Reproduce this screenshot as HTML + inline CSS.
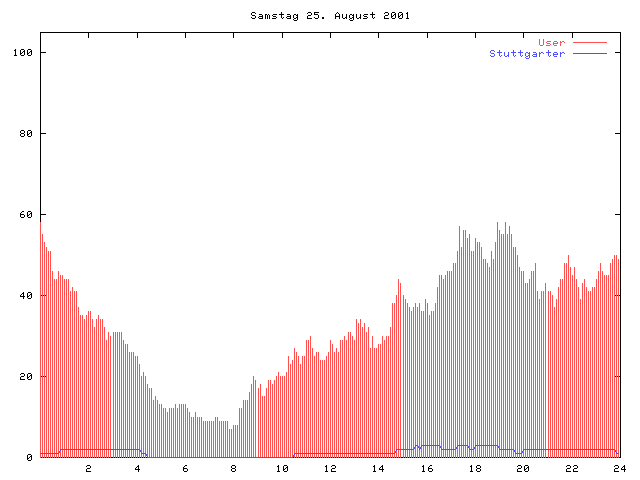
<!DOCTYPE html>
<html><head><meta charset="utf-8"><title>Samstag 25. August 2001</title>
<style>html,body{margin:0;padding:0;background:#fff;width:640px;height:480px;overflow:hidden}svg{display:block}</style>
</head><body><svg width="640" height="480" viewBox="0 0 640 480" shape-rendering="crispEdges">
<rect x="0" y="0" width="640" height="480" fill="#fff"/>
<path fill="#000" d="M14 50h1v1h-1zM14 55h1v1h-1zM15 49h1v7h-1zM16 55h1v1h-1zM20 50h1v5h-1zM20 131h1v2h-1zM20 134h1v2h-1zM20 213h1v4h-1zM20 295h1v2h-1zM20 374h1v1h-1zM20 377h1v3h-1zM21 49h1v1h-1zM21 53h1v1h-1zM21 55h1v1h-1zM21 130h1v1h-1zM21 133h1v1h-1zM21 136h1v1h-1zM21 212h1v1h-1zM21 214h1v1h-1zM21 217h1v1h-1zM21 294h1v1h-1zM21 296h1v1h-1zM21 373h1v1h-1zM21 376h1v1h-1zM21 379h1v1h-1zM22 49h1v1h-1zM22 52h1v1h-1zM22 55h1v1h-1zM22 130h1v1h-1zM22 133h1v1h-1zM22 136h1v1h-1zM22 211h1v1h-1zM22 214h1v1h-1zM22 217h1v1h-1zM22 293h1v1h-1zM22 296h1v1h-1zM22 373h1v1h-1zM22 376h1v1h-1zM22 379h1v1h-1zM23 49h1v1h-1zM23 51h1v1h-1zM23 55h1v1h-1zM23 130h1v1h-1zM23 133h1v1h-1zM23 136h1v1h-1zM23 211h1v1h-1zM23 214h1v1h-1zM23 217h1v1h-1zM23 292h1v7h-1zM23 373h1v1h-1zM23 376h1v1h-1zM23 379h1v1h-1zM24 50h1v5h-1zM24 131h1v2h-1zM24 134h1v2h-1zM24 215h1v2h-1zM24 296h1v1h-1zM24 374h1v2h-1zM24 379h1v1h-1zM27 50h1v5h-1zM27 131h1v5h-1zM27 212h1v5h-1zM27 293h1v5h-1zM27 374h1v5h-1zM27 455h1v5h-1zM28 49h1v1h-1zM28 53h1v1h-1zM28 55h1v1h-1zM28 130h1v1h-1zM28 134h1v1h-1zM28 136h1v1h-1zM28 211h1v1h-1zM28 215h1v1h-1zM28 217h1v1h-1zM28 292h1v1h-1zM28 296h1v1h-1zM28 298h1v1h-1zM28 373h1v1h-1zM28 377h1v1h-1zM28 379h1v1h-1zM28 454h1v1h-1zM28 458h1v1h-1zM28 460h1v1h-1zM29 49h1v1h-1zM29 52h1v1h-1zM29 55h1v1h-1zM29 130h1v1h-1zM29 133h1v1h-1zM29 136h1v1h-1zM29 211h1v1h-1zM29 214h1v1h-1zM29 217h1v1h-1zM29 292h1v1h-1zM29 295h1v1h-1zM29 298h1v1h-1zM29 373h1v1h-1zM29 376h1v1h-1zM29 379h1v1h-1zM29 454h1v1h-1zM29 457h1v1h-1zM29 460h1v1h-1zM30 49h1v1h-1zM30 51h1v1h-1zM30 55h1v1h-1zM30 130h1v1h-1zM30 132h1v1h-1zM30 136h1v1h-1zM30 211h1v1h-1zM30 213h1v1h-1zM30 217h1v1h-1zM30 292h1v1h-1zM30 294h1v1h-1zM30 298h1v1h-1zM30 373h1v1h-1zM30 375h1v1h-1zM30 379h1v1h-1zM30 454h1v1h-1zM30 456h1v1h-1zM30 460h1v1h-1zM31 50h1v5h-1zM31 131h1v5h-1zM31 212h1v5h-1zM31 293h1v5h-1zM31 374h1v5h-1zM31 455h1v5h-1zM40 32h1v190h-1zM41 32h1v1h-1zM41 52h1v1h-1zM41 133h1v1h-1zM41 214h1v1h-1zM41 295h1v1h-1zM41 376h1v1h-1zM41 457h1v1h-1zM42 32h1v1h-1zM42 52h1v1h-1zM42 133h1v1h-1zM42 214h1v1h-1zM43 32h1v1h-1zM43 52h1v1h-1zM43 133h1v1h-1zM43 214h1v1h-1zM43 295h1v1h-1zM43 376h1v1h-1zM43 457h1v1h-1zM44 32h1v1h-1zM44 52h1v1h-1zM44 133h1v1h-1zM44 214h1v1h-1zM45 32h1v1h-1zM45 52h1v1h-1zM45 133h1v1h-1zM45 214h1v1h-1zM45 295h1v1h-1zM45 376h1v1h-1zM45 457h1v1h-1zM46 32h1v1h-1zM47 32h1v1h-1zM47 457h1v1h-1zM48 32h1v1h-1zM49 32h1v1h-1zM49 457h1v1h-1zM50 32h1v1h-1zM51 32h1v1h-1zM51 457h1v1h-1zM52 32h1v1h-1zM53 32h1v1h-1zM53 457h1v1h-1zM54 32h1v1h-1zM55 32h1v1h-1zM55 457h1v1h-1zM56 32h1v1h-1zM57 32h1v1h-1zM57 457h1v1h-1zM58 32h1v1h-1zM59 32h1v1h-1zM59 457h1v1h-1zM60 32h1v1h-1zM61 32h1v1h-1zM61 457h1v1h-1zM62 32h1v1h-1zM63 32h1v1h-1zM63 457h1v1h-1zM64 32h1v1h-1zM65 32h1v1h-1zM65 457h1v1h-1zM66 32h1v1h-1zM67 32h1v1h-1zM67 457h1v1h-1zM68 32h1v1h-1zM69 32h1v1h-1zM69 457h1v1h-1zM70 32h1v1h-1zM71 32h1v1h-1zM71 457h1v1h-1zM72 32h1v1h-1zM73 32h1v1h-1zM73 457h1v1h-1zM74 32h1v1h-1zM75 32h1v1h-1zM75 457h1v1h-1zM76 32h1v1h-1zM77 32h1v1h-1zM77 457h1v1h-1zM78 32h1v1h-1zM79 32h1v1h-1zM79 457h1v1h-1zM80 32h1v1h-1zM81 32h1v1h-1zM81 457h1v1h-1zM82 32h1v1h-1zM83 32h1v1h-1zM83 457h1v1h-1zM84 32h1v1h-1zM85 32h1v1h-1zM85 457h1v1h-1zM86 32h1v1h-1zM86 466h1v1h-1zM86 469h1v3h-1zM87 32h1v1h-1zM87 457h1v1h-1zM87 465h1v1h-1zM87 468h1v1h-1zM87 471h1v1h-1zM88 32h1v6h-1zM88 465h1v1h-1zM88 468h1v1h-1zM88 471h1v1h-1zM89 32h1v1h-1zM89 457h1v1h-1zM89 465h1v1h-1zM89 468h1v1h-1zM89 471h1v1h-1zM90 32h1v1h-1zM90 466h1v2h-1zM90 471h1v1h-1zM91 32h1v1h-1zM91 457h1v1h-1zM92 32h1v1h-1zM93 32h1v1h-1zM93 457h1v1h-1zM94 32h1v1h-1zM95 32h1v1h-1zM95 457h1v1h-1zM96 32h1v1h-1zM97 32h1v1h-1zM97 457h1v1h-1zM98 32h1v1h-1zM99 32h1v1h-1zM99 457h1v1h-1zM100 32h1v1h-1zM101 32h1v1h-1zM101 457h1v1h-1zM102 32h1v1h-1zM103 32h1v1h-1zM103 457h1v1h-1zM104 32h1v1h-1zM105 32h1v1h-1zM105 457h1v1h-1zM106 32h1v1h-1zM107 32h1v1h-1zM107 457h1v1h-1zM108 32h1v1h-1zM109 32h1v1h-1zM109 457h1v1h-1zM110 32h1v1h-1zM111 32h1v1h-1zM111 457h1v1h-1zM112 32h1v1h-1zM112 457h1v1h-1zM113 32h1v1h-1zM114 32h1v1h-1zM114 457h1v1h-1zM115 32h1v1h-1zM116 32h1v1h-1zM116 457h1v1h-1zM117 32h1v1h-1zM118 32h1v1h-1zM118 457h1v1h-1zM119 32h1v1h-1zM120 32h1v1h-1zM120 457h1v1h-1zM121 32h1v1h-1zM122 32h1v1h-1zM122 457h1v1h-1zM123 32h1v1h-1zM124 32h1v1h-1zM124 457h1v1h-1zM125 32h1v1h-1zM126 32h1v1h-1zM126 457h1v1h-1zM127 32h1v1h-1zM128 32h1v1h-1zM128 457h1v1h-1zM129 32h1v1h-1zM130 32h1v1h-1zM130 457h1v1h-1zM131 32h1v1h-1zM132 32h1v1h-1zM132 457h1v1h-1zM133 32h1v1h-1zM134 32h1v1h-1zM134 457h1v1h-1zM135 32h1v1h-1zM135 468h1v2h-1zM136 32h1v1h-1zM136 457h1v1h-1zM136 467h1v1h-1zM136 469h1v1h-1zM137 32h1v6h-1zM137 466h1v1h-1zM137 469h1v1h-1zM138 32h1v1h-1zM138 457h1v1h-1zM138 465h1v7h-1zM139 32h1v1h-1zM139 469h1v1h-1zM140 32h1v1h-1zM140 457h1v1h-1zM141 32h1v1h-1zM142 32h1v1h-1zM142 457h1v1h-1zM143 32h1v1h-1zM144 32h1v1h-1zM144 457h1v1h-1zM145 32h1v1h-1zM146 32h1v1h-1zM146 457h1v1h-1zM147 32h1v1h-1zM148 32h1v1h-1zM149 32h1v1h-1zM150 32h1v1h-1zM151 32h1v1h-1zM152 32h1v1h-1zM153 32h1v1h-1zM154 32h1v1h-1zM155 32h1v1h-1zM156 32h1v1h-1zM157 32h1v1h-1zM158 32h1v1h-1zM159 32h1v1h-1zM160 32h1v1h-1zM161 32h1v1h-1zM162 32h1v1h-1zM163 32h1v1h-1zM164 32h1v1h-1zM165 32h1v1h-1zM166 32h1v1h-1zM167 32h1v1h-1zM168 32h1v1h-1zM169 32h1v1h-1zM170 32h1v1h-1zM171 32h1v1h-1zM172 32h1v1h-1zM173 32h1v1h-1zM174 32h1v1h-1zM175 32h1v1h-1zM176 32h1v1h-1zM177 32h1v1h-1zM178 32h1v1h-1zM179 32h1v1h-1zM180 32h1v1h-1zM181 32h1v1h-1zM182 32h1v1h-1zM183 32h1v1h-1zM183 467h1v4h-1zM184 32h1v1h-1zM184 466h1v1h-1zM184 468h1v1h-1zM184 471h1v1h-1zM185 32h1v6h-1zM185 465h1v1h-1zM185 468h1v1h-1zM185 471h1v1h-1zM186 32h1v1h-1zM186 465h1v1h-1zM186 468h1v1h-1zM186 471h1v1h-1zM187 32h1v1h-1zM187 469h1v2h-1zM188 32h1v1h-1zM189 32h1v1h-1zM190 32h1v1h-1zM191 32h1v1h-1zM192 32h1v1h-1zM193 32h1v1h-1zM194 32h1v1h-1zM195 32h1v1h-1zM196 32h1v1h-1zM197 32h1v1h-1zM198 32h1v1h-1zM199 32h1v1h-1zM200 32h1v1h-1zM201 32h1v1h-1zM202 32h1v1h-1zM203 32h1v1h-1zM204 32h1v1h-1zM205 32h1v1h-1zM206 32h1v1h-1zM207 32h1v1h-1zM208 32h1v1h-1zM209 32h1v1h-1zM210 32h1v1h-1zM211 32h1v1h-1zM212 32h1v1h-1zM213 32h1v1h-1zM214 32h1v1h-1zM215 32h1v1h-1zM216 32h1v1h-1zM217 32h1v1h-1zM218 32h1v1h-1zM219 32h1v1h-1zM220 32h1v1h-1zM221 32h1v1h-1zM222 32h1v1h-1zM223 32h1v1h-1zM224 32h1v1h-1zM225 32h1v1h-1zM226 32h1v1h-1zM227 32h1v1h-1zM228 32h1v1h-1zM229 32h1v1h-1zM230 32h1v1h-1zM231 32h1v1h-1zM231 466h1v2h-1zM231 469h1v2h-1zM232 32h1v1h-1zM232 465h1v1h-1zM232 468h1v1h-1zM232 471h1v1h-1zM233 32h1v6h-1zM233 465h1v1h-1zM233 468h1v1h-1zM233 471h1v1h-1zM234 32h1v1h-1zM234 465h1v1h-1zM234 468h1v1h-1zM234 471h1v1h-1zM235 32h1v1h-1zM235 466h1v2h-1zM235 469h1v2h-1zM236 32h1v1h-1zM237 32h1v1h-1zM238 32h1v1h-1zM239 32h1v1h-1zM240 32h1v1h-1zM241 32h1v1h-1zM242 32h1v1h-1zM243 32h1v1h-1zM244 32h1v1h-1zM245 32h1v1h-1zM246 32h1v1h-1zM247 32h1v1h-1zM248 32h1v1h-1zM249 32h1v1h-1zM250 32h1v1h-1zM251 13h1v2h-1zM251 17h1v1h-1zM251 32h1v1h-1zM252 12h1v1h-1zM252 15h1v1h-1zM252 18h1v1h-1zM252 32h1v1h-1zM253 12h1v1h-1zM253 15h1v1h-1zM253 18h1v1h-1zM253 32h1v1h-1zM254 12h1v1h-1zM254 15h1v1h-1zM254 18h1v1h-1zM254 32h1v1h-1zM255 13h1v1h-1zM255 16h1v2h-1zM255 32h1v1h-1zM256 32h1v1h-1zM257 32h1v1h-1zM258 17h1v1h-1zM258 32h1v1h-1zM259 14h1v1h-1zM259 16h1v1h-1zM259 18h1v1h-1zM259 32h1v1h-1zM260 14h1v1h-1zM260 16h1v1h-1zM260 18h1v1h-1zM260 32h1v1h-1zM261 14h1v1h-1zM261 16h1v1h-1zM261 18h1v1h-1zM261 32h1v1h-1zM262 15h1v4h-1zM262 32h1v1h-1zM263 32h1v1h-1zM264 32h1v1h-1zM265 14h1v5h-1zM265 32h1v1h-1zM266 14h1v1h-1zM266 32h1v1h-1zM267 15h1v4h-1zM267 32h1v1h-1zM268 14h1v1h-1zM268 32h1v1h-1zM269 15h1v4h-1zM269 32h1v1h-1zM270 32h1v1h-1zM271 32h1v1h-1zM272 15h1v1h-1zM272 18h1v1h-1zM272 32h1v1h-1zM273 14h1v1h-1zM273 16h1v1h-1zM273 18h1v1h-1zM273 32h1v1h-1zM274 14h1v1h-1zM274 16h1v1h-1zM274 18h1v1h-1zM274 32h1v1h-1zM275 14h1v1h-1zM275 16h1v1h-1zM275 18h1v1h-1zM275 32h1v1h-1zM276 14h1v1h-1zM276 17h1v1h-1zM276 32h1v1h-1zM277 32h1v1h-1zM277 466h1v1h-1zM277 471h1v1h-1zM278 32h1v1h-1zM278 465h1v7h-1zM279 14h1v1h-1zM279 32h1v1h-1zM279 471h1v1h-1zM280 14h1v1h-1zM280 32h1v1h-1zM281 12h1v6h-1zM281 32h1v1h-1zM282 14h1v1h-1zM282 18h1v1h-1zM282 32h1v6h-1zM283 14h1v1h-1zM283 17h1v1h-1zM283 32h1v1h-1zM283 466h1v5h-1zM284 32h1v1h-1zM284 465h1v1h-1zM284 469h1v1h-1zM284 471h1v1h-1zM285 32h1v1h-1zM285 465h1v1h-1zM285 468h1v1h-1zM285 471h1v1h-1zM286 17h1v1h-1zM286 32h1v1h-1zM286 465h1v1h-1zM286 467h1v1h-1zM286 471h1v1h-1zM287 14h1v1h-1zM287 16h1v1h-1zM287 18h1v1h-1zM287 32h1v1h-1zM287 466h1v5h-1zM288 14h1v1h-1zM288 16h1v1h-1zM288 18h1v1h-1zM288 32h1v1h-1zM289 14h1v1h-1zM289 16h1v1h-1zM289 18h1v1h-1zM289 32h1v1h-1zM290 15h1v4h-1zM290 32h1v1h-1zM291 32h1v1h-1zM292 32h1v1h-1zM293 15h1v3h-1zM293 19h1v1h-1zM293 32h1v1h-1zM293 457h1v1h-1zM294 14h1v1h-1zM294 18h1v1h-1zM294 20h1v1h-1zM294 32h1v1h-1zM295 14h1v1h-1zM295 18h1v1h-1zM295 20h1v1h-1zM295 32h1v1h-1zM295 457h1v1h-1zM296 15h1v1h-1zM296 17h1v1h-1zM296 20h1v1h-1zM296 32h1v1h-1zM297 14h1v6h-1zM297 32h1v1h-1zM297 457h1v1h-1zM298 32h1v1h-1zM299 32h1v1h-1zM299 457h1v1h-1zM300 32h1v1h-1zM301 32h1v1h-1zM301 457h1v1h-1zM302 32h1v1h-1zM303 32h1v1h-1zM303 457h1v1h-1zM304 32h1v1h-1zM305 32h1v1h-1zM305 457h1v1h-1zM306 32h1v1h-1zM307 13h1v1h-1zM307 16h1v3h-1zM307 32h1v1h-1zM307 457h1v1h-1zM308 12h1v1h-1zM308 15h1v1h-1zM308 18h1v1h-1zM308 32h1v1h-1zM309 12h1v1h-1zM309 15h1v1h-1zM309 18h1v1h-1zM309 32h1v1h-1zM309 457h1v1h-1zM310 12h1v1h-1zM310 15h1v1h-1zM310 18h1v1h-1zM310 32h1v1h-1zM311 13h1v2h-1zM311 18h1v1h-1zM311 32h1v1h-1zM311 457h1v1h-1zM312 32h1v1h-1zM313 32h1v1h-1zM313 457h1v1h-1zM314 12h1v3h-1zM314 17h1v1h-1zM314 32h1v1h-1zM315 12h1v1h-1zM315 14h1v1h-1zM315 18h1v1h-1zM315 32h1v1h-1zM315 457h1v1h-1zM316 12h1v1h-1zM316 14h1v1h-1zM316 18h1v1h-1zM316 32h1v1h-1zM317 12h1v1h-1zM317 14h1v1h-1zM317 18h1v1h-1zM317 32h1v1h-1zM317 457h1v1h-1zM318 12h1v1h-1zM318 15h1v3h-1zM318 32h1v1h-1zM319 32h1v1h-1zM319 457h1v1h-1zM320 32h1v1h-1zM321 32h1v1h-1zM321 457h1v1h-1zM322 17h1v2h-1zM322 32h1v1h-1zM323 17h1v2h-1zM323 32h1v1h-1zM323 457h1v1h-1zM324 32h1v1h-1zM325 32h1v1h-1zM325 457h1v1h-1zM325 466h1v1h-1zM325 471h1v1h-1zM326 32h1v1h-1zM326 465h1v7h-1zM327 32h1v1h-1zM327 457h1v1h-1zM327 471h1v1h-1zM328 32h1v1h-1zM329 32h1v1h-1zM329 457h1v1h-1zM330 32h1v6h-1zM331 32h1v1h-1zM331 457h1v1h-1zM331 466h1v1h-1zM331 469h1v3h-1zM332 32h1v1h-1zM332 465h1v1h-1zM332 468h1v1h-1zM332 471h1v1h-1zM333 32h1v1h-1zM333 457h1v1h-1zM333 465h1v1h-1zM333 468h1v1h-1zM333 471h1v1h-1zM334 32h1v1h-1zM334 465h1v1h-1zM334 468h1v1h-1zM334 471h1v1h-1zM335 14h1v5h-1zM335 32h1v1h-1zM335 457h1v1h-1zM335 466h1v2h-1zM335 471h1v1h-1zM336 13h1v1h-1zM336 16h1v1h-1zM336 32h1v1h-1zM337 12h1v1h-1zM337 16h1v1h-1zM337 32h1v1h-1zM337 457h1v1h-1zM338 13h1v1h-1zM338 16h1v1h-1zM338 32h1v1h-1zM339 14h1v5h-1zM339 32h1v1h-1zM339 457h1v1h-1zM340 32h1v1h-1zM341 32h1v1h-1zM341 457h1v1h-1zM342 14h1v4h-1zM342 32h1v1h-1zM343 18h1v1h-1zM343 32h1v1h-1zM343 457h1v1h-1zM344 18h1v1h-1zM344 32h1v1h-1zM345 17h1v1h-1zM345 32h1v1h-1zM345 457h1v1h-1zM346 14h1v5h-1zM346 32h1v1h-1zM347 32h1v1h-1zM347 457h1v1h-1zM348 32h1v1h-1zM349 15h1v3h-1zM349 19h1v1h-1zM349 32h1v1h-1zM349 457h1v1h-1zM350 14h1v1h-1zM350 18h1v1h-1zM350 20h1v1h-1zM350 32h1v1h-1zM351 14h1v1h-1zM351 18h1v1h-1zM351 20h1v1h-1zM351 32h1v1h-1zM351 457h1v1h-1zM352 15h1v1h-1zM352 17h1v1h-1zM352 20h1v1h-1zM352 32h1v1h-1zM353 14h1v6h-1zM353 32h1v1h-1zM353 457h1v1h-1zM354 32h1v1h-1zM355 32h1v1h-1zM355 457h1v1h-1zM356 14h1v4h-1zM356 32h1v1h-1zM357 18h1v1h-1zM357 32h1v1h-1zM357 457h1v1h-1zM358 18h1v1h-1zM358 32h1v1h-1zM359 17h1v1h-1zM359 32h1v1h-1zM359 457h1v1h-1zM360 14h1v5h-1zM360 32h1v1h-1zM361 32h1v1h-1zM361 457h1v1h-1zM362 32h1v1h-1zM363 15h1v1h-1zM363 18h1v1h-1zM363 32h1v1h-1zM363 457h1v1h-1zM364 14h1v1h-1zM364 16h1v1h-1zM364 18h1v1h-1zM364 32h1v1h-1zM365 14h1v1h-1zM365 16h1v1h-1zM365 18h1v1h-1zM365 32h1v1h-1zM365 457h1v1h-1zM366 14h1v1h-1zM366 16h1v1h-1zM366 18h1v1h-1zM366 32h1v1h-1zM367 14h1v1h-1zM367 17h1v1h-1zM367 32h1v1h-1zM367 457h1v1h-1zM368 32h1v1h-1zM369 32h1v1h-1zM369 457h1v1h-1zM370 14h1v1h-1zM370 32h1v1h-1zM371 14h1v1h-1zM371 32h1v1h-1zM371 457h1v1h-1zM372 12h1v6h-1zM372 32h1v1h-1zM373 14h1v1h-1zM373 18h1v1h-1zM373 32h1v1h-1zM373 457h1v1h-1zM373 466h1v1h-1zM373 471h1v1h-1zM374 14h1v1h-1zM374 17h1v1h-1zM374 32h1v1h-1zM374 465h1v7h-1zM375 32h1v1h-1zM375 457h1v1h-1zM375 471h1v1h-1zM376 32h1v1h-1zM377 32h1v1h-1zM377 457h1v1h-1zM378 32h1v6h-1zM379 32h1v1h-1zM379 457h1v1h-1zM379 468h1v2h-1zM380 32h1v1h-1zM380 467h1v1h-1zM380 469h1v1h-1zM381 32h1v1h-1zM381 457h1v1h-1zM381 466h1v1h-1zM381 469h1v1h-1zM382 32h1v1h-1zM382 465h1v7h-1zM383 32h1v1h-1zM383 457h1v1h-1zM383 469h1v1h-1zM384 13h1v1h-1zM384 16h1v3h-1zM384 32h1v1h-1zM385 12h1v1h-1zM385 15h1v1h-1zM385 18h1v1h-1zM385 32h1v1h-1zM385 457h1v1h-1zM386 12h1v1h-1zM386 15h1v1h-1zM386 18h1v1h-1zM386 32h1v1h-1zM387 12h1v1h-1zM387 15h1v1h-1zM387 18h1v1h-1zM387 32h1v1h-1zM387 457h1v1h-1zM388 13h1v2h-1zM388 18h1v1h-1zM388 32h1v1h-1zM389 32h1v1h-1zM389 457h1v1h-1zM390 32h1v1h-1zM391 13h1v5h-1zM391 32h1v1h-1zM391 457h1v1h-1zM392 12h1v1h-1zM392 16h1v1h-1zM392 18h1v1h-1zM392 32h1v1h-1zM393 12h1v1h-1zM393 15h1v1h-1zM393 18h1v1h-1zM393 32h1v1h-1zM393 457h1v1h-1zM394 12h1v1h-1zM394 14h1v1h-1zM394 18h1v1h-1zM394 32h1v1h-1zM395 13h1v5h-1zM395 32h1v1h-1zM395 457h1v1h-1zM396 32h1v1h-1zM397 32h1v1h-1zM397 457h1v1h-1zM398 13h1v5h-1zM398 32h1v1h-1zM399 12h1v1h-1zM399 16h1v1h-1zM399 18h1v1h-1zM399 32h1v1h-1zM399 457h1v1h-1zM400 12h1v1h-1zM400 15h1v1h-1zM400 18h1v1h-1zM400 32h1v1h-1zM401 12h1v1h-1zM401 14h1v1h-1zM401 18h1v1h-1zM401 32h1v1h-1zM401 457h1v1h-1zM402 13h1v5h-1zM402 32h1v1h-1zM402 457h1v1h-1zM403 32h1v1h-1zM404 32h1v1h-1zM404 457h1v1h-1zM405 32h1v1h-1zM406 13h1v1h-1zM406 18h1v1h-1zM406 32h1v1h-1zM406 457h1v1h-1zM407 12h1v7h-1zM407 32h1v1h-1zM408 18h1v1h-1zM408 32h1v1h-1zM408 457h1v1h-1zM409 32h1v1h-1zM410 32h1v1h-1zM410 457h1v1h-1zM411 32h1v1h-1zM412 32h1v1h-1zM412 457h1v1h-1zM413 32h1v1h-1zM414 32h1v1h-1zM414 457h1v1h-1zM415 32h1v1h-1zM416 32h1v1h-1zM416 457h1v1h-1zM417 32h1v1h-1zM418 32h1v1h-1zM418 457h1v1h-1zM419 32h1v1h-1zM420 32h1v1h-1zM420 457h1v1h-1zM421 32h1v1h-1zM422 32h1v1h-1zM422 457h1v1h-1zM422 466h1v1h-1zM422 471h1v1h-1zM423 32h1v1h-1zM423 465h1v7h-1zM424 32h1v1h-1zM424 457h1v1h-1zM424 471h1v1h-1zM425 32h1v1h-1zM426 32h1v1h-1zM426 457h1v1h-1zM427 32h1v6h-1zM428 32h1v1h-1zM428 457h1v1h-1zM428 467h1v4h-1zM429 32h1v1h-1zM429 466h1v1h-1zM429 468h1v1h-1zM429 471h1v1h-1zM430 32h1v1h-1zM430 457h1v1h-1zM430 465h1v1h-1zM430 468h1v1h-1zM430 471h1v1h-1zM431 32h1v1h-1zM431 465h1v1h-1zM431 468h1v1h-1zM431 471h1v1h-1zM432 32h1v1h-1zM432 457h1v1h-1zM432 469h1v2h-1zM433 32h1v1h-1zM434 32h1v1h-1zM434 457h1v1h-1zM435 32h1v1h-1zM436 32h1v1h-1zM436 457h1v1h-1zM437 32h1v1h-1zM438 32h1v1h-1zM438 457h1v1h-1zM439 32h1v1h-1zM440 32h1v1h-1zM440 457h1v1h-1zM441 32h1v1h-1zM442 32h1v1h-1zM442 457h1v1h-1zM443 32h1v1h-1zM444 32h1v1h-1zM444 457h1v1h-1zM445 32h1v1h-1zM446 32h1v1h-1zM446 457h1v1h-1zM447 32h1v1h-1zM448 32h1v1h-1zM448 457h1v1h-1zM449 32h1v1h-1zM450 32h1v1h-1zM450 457h1v1h-1zM451 32h1v1h-1zM452 32h1v1h-1zM452 457h1v1h-1zM453 32h1v1h-1zM454 32h1v1h-1zM454 457h1v1h-1zM455 32h1v1h-1zM456 32h1v1h-1zM456 457h1v1h-1zM457 32h1v1h-1zM458 32h1v1h-1zM458 457h1v1h-1zM459 32h1v1h-1zM460 32h1v1h-1zM460 457h1v1h-1zM461 32h1v1h-1zM462 32h1v1h-1zM462 457h1v1h-1zM463 32h1v1h-1zM464 32h1v1h-1zM464 457h1v1h-1zM465 32h1v1h-1zM466 32h1v1h-1zM466 457h1v1h-1zM467 32h1v1h-1zM468 32h1v1h-1zM468 457h1v1h-1zM469 32h1v1h-1zM470 32h1v1h-1zM470 457h1v1h-1zM470 466h1v1h-1zM470 471h1v1h-1zM471 32h1v1h-1zM471 465h1v7h-1zM472 32h1v1h-1zM472 457h1v1h-1zM472 471h1v1h-1zM473 32h1v1h-1zM474 32h1v1h-1zM474 457h1v1h-1zM475 32h1v6h-1zM476 32h1v1h-1zM476 457h1v1h-1zM476 466h1v2h-1zM476 469h1v2h-1zM477 32h1v1h-1zM477 465h1v1h-1zM477 468h1v1h-1zM477 471h1v1h-1zM478 32h1v1h-1zM478 457h1v1h-1zM478 465h1v1h-1zM478 468h1v1h-1zM478 471h1v1h-1zM479 32h1v1h-1zM479 465h1v1h-1zM479 468h1v1h-1zM479 471h1v1h-1zM480 32h1v1h-1zM480 457h1v1h-1zM480 466h1v2h-1zM480 469h1v2h-1zM481 32h1v1h-1zM482 32h1v1h-1zM482 457h1v1h-1zM483 32h1v1h-1zM484 32h1v1h-1zM484 457h1v1h-1zM485 32h1v1h-1zM486 32h1v1h-1zM486 457h1v1h-1zM487 32h1v1h-1zM488 32h1v1h-1zM488 457h1v1h-1zM489 32h1v1h-1zM490 32h1v1h-1zM490 457h1v1h-1zM491 32h1v1h-1zM492 32h1v1h-1zM492 457h1v1h-1zM493 32h1v1h-1zM494 32h1v1h-1zM494 457h1v1h-1zM495 32h1v1h-1zM496 32h1v1h-1zM496 457h1v1h-1zM497 32h1v1h-1zM498 32h1v1h-1zM498 457h1v1h-1zM499 32h1v1h-1zM500 32h1v1h-1zM500 457h1v1h-1zM501 32h1v1h-1zM502 32h1v1h-1zM502 457h1v1h-1zM503 32h1v1h-1zM504 32h1v1h-1zM504 457h1v1h-1zM505 32h1v1h-1zM506 32h1v1h-1zM506 457h1v1h-1zM507 32h1v1h-1zM508 32h1v1h-1zM508 457h1v1h-1zM509 32h1v1h-1zM510 32h1v1h-1zM510 457h1v1h-1zM511 32h1v1h-1zM512 32h1v1h-1zM512 457h1v1h-1zM513 32h1v1h-1zM514 32h1v1h-1zM514 457h1v1h-1zM515 32h1v1h-1zM516 32h1v1h-1zM516 457h1v1h-1zM517 32h1v1h-1zM517 466h1v1h-1zM517 469h1v3h-1zM518 32h1v1h-1zM518 457h1v1h-1zM518 465h1v1h-1zM518 468h1v1h-1zM518 471h1v1h-1zM519 32h1v1h-1zM519 465h1v1h-1zM519 468h1v1h-1zM519 471h1v1h-1zM520 32h1v1h-1zM520 457h1v1h-1zM520 465h1v1h-1zM520 468h1v1h-1zM520 471h1v1h-1zM521 32h1v1h-1zM521 466h1v2h-1zM521 471h1v1h-1zM522 32h1v1h-1zM522 457h1v1h-1zM523 32h1v6h-1zM524 32h1v1h-1zM524 457h1v1h-1zM524 466h1v5h-1zM525 32h1v1h-1zM525 465h1v1h-1zM525 469h1v1h-1zM525 471h1v1h-1zM526 32h1v1h-1zM526 457h1v1h-1zM526 465h1v1h-1zM526 468h1v1h-1zM526 471h1v1h-1zM527 32h1v1h-1zM527 465h1v1h-1zM527 467h1v1h-1zM527 471h1v1h-1zM528 32h1v1h-1zM528 457h1v1h-1zM528 466h1v5h-1zM529 32h1v1h-1zM530 32h1v1h-1zM530 457h1v1h-1zM531 32h1v1h-1zM532 32h1v1h-1zM532 457h1v1h-1zM533 32h1v1h-1zM534 32h1v1h-1zM534 457h1v1h-1zM535 32h1v1h-1zM536 32h1v1h-1zM536 457h1v1h-1zM537 32h1v1h-1zM538 32h1v1h-1zM538 457h1v1h-1zM539 32h1v1h-1zM540 32h1v1h-1zM540 457h1v1h-1zM541 32h1v1h-1zM542 32h1v1h-1zM542 457h1v1h-1zM543 32h1v1h-1zM544 32h1v1h-1zM544 457h1v1h-1zM545 32h1v1h-1zM546 32h1v1h-1zM546 457h1v1h-1zM547 32h1v1h-1zM547 457h1v1h-1zM548 32h1v1h-1zM549 32h1v1h-1zM549 457h1v1h-1zM550 32h1v1h-1zM551 32h1v1h-1zM551 457h1v1h-1zM552 32h1v1h-1zM553 32h1v1h-1zM553 457h1v1h-1zM554 32h1v1h-1zM555 32h1v1h-1zM555 457h1v1h-1zM556 32h1v1h-1zM557 32h1v1h-1zM557 457h1v1h-1zM558 32h1v1h-1zM559 32h1v1h-1zM559 457h1v1h-1zM560 32h1v1h-1zM561 32h1v1h-1zM561 457h1v1h-1zM562 32h1v1h-1zM563 32h1v1h-1zM563 457h1v1h-1zM564 32h1v1h-1zM565 32h1v1h-1zM565 457h1v1h-1zM566 32h1v1h-1zM566 466h1v1h-1zM566 469h1v3h-1zM567 32h1v1h-1zM567 457h1v1h-1zM567 465h1v1h-1zM567 468h1v1h-1zM567 471h1v1h-1zM568 32h1v1h-1zM568 465h1v1h-1zM568 468h1v1h-1zM568 471h1v1h-1zM569 32h1v1h-1zM569 457h1v1h-1zM569 465h1v1h-1zM569 468h1v1h-1zM569 471h1v1h-1zM570 32h1v1h-1zM570 466h1v2h-1zM570 471h1v1h-1zM571 32h1v1h-1zM571 457h1v1h-1zM572 32h1v6h-1zM573 32h1v1h-1zM573 457h1v1h-1zM573 466h1v1h-1zM573 469h1v3h-1zM574 32h1v1h-1zM574 465h1v1h-1zM574 468h1v1h-1zM574 471h1v1h-1zM575 32h1v1h-1zM575 457h1v1h-1zM575 465h1v1h-1zM575 468h1v1h-1zM575 471h1v1h-1zM576 32h1v1h-1zM576 465h1v1h-1zM576 468h1v1h-1zM576 471h1v1h-1zM577 32h1v1h-1zM577 457h1v1h-1zM577 466h1v2h-1zM577 471h1v1h-1zM578 32h1v1h-1zM579 32h1v1h-1zM579 457h1v1h-1zM580 32h1v1h-1zM581 32h1v1h-1zM581 457h1v1h-1zM582 32h1v1h-1zM583 32h1v1h-1zM583 457h1v1h-1zM584 32h1v1h-1zM585 32h1v1h-1zM585 457h1v1h-1zM586 32h1v1h-1zM587 32h1v1h-1zM587 457h1v1h-1zM588 32h1v1h-1zM589 32h1v1h-1zM589 457h1v1h-1zM590 32h1v1h-1zM591 32h1v1h-1zM591 457h1v1h-1zM592 32h1v1h-1zM593 32h1v1h-1zM593 457h1v1h-1zM594 32h1v1h-1zM595 32h1v1h-1zM595 457h1v1h-1zM596 32h1v1h-1zM597 32h1v1h-1zM597 457h1v1h-1zM598 32h1v1h-1zM599 32h1v1h-1zM599 457h1v1h-1zM600 32h1v1h-1zM601 32h1v1h-1zM601 457h1v1h-1zM602 32h1v1h-1zM603 32h1v1h-1zM603 457h1v1h-1zM604 32h1v1h-1zM605 32h1v1h-1zM605 457h1v1h-1zM606 32h1v1h-1zM607 32h1v1h-1zM607 457h1v1h-1zM608 32h1v1h-1zM609 32h1v1h-1zM609 457h1v1h-1zM610 32h1v1h-1zM611 32h1v1h-1zM611 457h1v1h-1zM612 32h1v1h-1zM613 32h1v1h-1zM613 457h1v1h-1zM614 32h1v1h-1zM614 466h1v1h-1zM614 469h1v3h-1zM615 32h1v1h-1zM615 52h1v1h-1zM615 133h1v1h-1zM615 214h1v1h-1zM615 295h1v1h-1zM615 376h1v1h-1zM615 457h1v1h-1zM615 465h1v1h-1zM615 468h1v1h-1zM615 471h1v1h-1zM616 32h1v1h-1zM616 52h1v1h-1zM616 133h1v1h-1zM616 214h1v1h-1zM616 465h1v1h-1zM616 468h1v1h-1zM616 471h1v1h-1zM617 32h1v1h-1zM617 52h1v1h-1zM617 133h1v1h-1zM617 214h1v1h-1zM617 295h1v1h-1zM617 376h1v1h-1zM617 457h1v1h-1zM617 465h1v1h-1zM617 468h1v1h-1zM617 471h1v1h-1zM618 32h1v1h-1zM618 52h1v1h-1zM618 133h1v1h-1zM618 214h1v1h-1zM618 466h1v2h-1zM618 471h1v1h-1zM619 32h1v1h-1zM619 52h1v1h-1zM619 133h1v1h-1zM619 214h1v1h-1zM619 295h1v1h-1zM619 376h1v1h-1zM619 457h1v1h-1zM620 32h1v426h-1zM621 468h1v2h-1zM622 467h1v1h-1zM622 469h1v1h-1zM623 466h1v1h-1zM623 469h1v1h-1zM624 465h1v7h-1zM625 469h1v1h-1z"/>
<path fill="#ff5050" d="M40 222h1v231h-1zM40 454h1v4h-1zM42 234h1v219h-1zM42 454h1v4h-1zM44 242h1v211h-1zM44 454h1v4h-1zM46 247h1v206h-1zM46 454h1v4h-1zM48 251h1v202h-1zM48 454h1v4h-1zM50 251h1v202h-1zM50 454h1v4h-1zM52 271h1v182h-1zM52 454h1v4h-1zM54 279h1v174h-1zM54 454h1v4h-1zM56 279h1v174h-1zM56 454h1v4h-1zM58 271h1v182h-1zM58 454h1v4h-1zM60 275h1v174h-1zM60 451h1v7h-1zM62 275h1v174h-1zM62 450h1v8h-1zM64 279h1v170h-1zM64 450h1v8h-1zM66 279h1v170h-1zM66 450h1v8h-1zM68 279h1v170h-1zM68 450h1v8h-1zM70 291h1v158h-1zM70 450h1v8h-1zM72 287h1v162h-1zM72 450h1v8h-1zM74 291h1v158h-1zM74 450h1v8h-1zM76 291h1v158h-1zM76 450h1v8h-1zM78 307h1v142h-1zM78 450h1v8h-1zM80 315h1v134h-1zM80 450h1v8h-1zM82 315h1v134h-1zM82 450h1v8h-1zM84 319h1v130h-1zM84 450h1v8h-1zM86 315h1v134h-1zM86 450h1v8h-1zM88 311h1v138h-1zM88 450h1v8h-1zM90 311h1v138h-1zM90 450h1v8h-1zM92 319h1v130h-1zM92 450h1v8h-1zM94 327h1v122h-1zM94 450h1v8h-1zM96 319h1v130h-1zM96 450h1v8h-1zM98 315h1v134h-1zM98 450h1v8h-1zM100 319h1v130h-1zM100 450h1v8h-1zM102 319h1v130h-1zM102 450h1v8h-1zM104 327h1v122h-1zM104 450h1v8h-1zM106 340h1v109h-1zM106 450h1v8h-1zM108 332h1v117h-1zM108 450h1v8h-1zM110 336h1v113h-1zM110 450h1v8h-1zM113 332h1v117h-1zM113 450h1v8h-1zM115 332h1v117h-1zM115 450h1v8h-1zM117 332h1v117h-1zM117 450h1v8h-1zM119 332h1v117h-1zM119 450h1v8h-1zM121 332h1v117h-1zM121 450h1v8h-1zM123 340h1v109h-1zM123 450h1v8h-1zM125 344h1v105h-1zM125 450h1v8h-1zM127 344h1v105h-1zM127 450h1v8h-1zM129 352h1v97h-1zM129 450h1v8h-1zM131 352h1v97h-1zM131 450h1v8h-1zM133 352h1v97h-1zM133 450h1v8h-1zM135 356h1v93h-1zM135 450h1v8h-1zM137 356h1v93h-1zM137 450h1v8h-1zM139 364h1v85h-1zM139 450h1v8h-1zM141 376h1v76h-1zM141 454h1v4h-1zM143 372h1v81h-1zM143 454h1v4h-1zM145 376h1v77h-1zM145 454h1v4h-1zM147 384h1v72h-1zM149 388h1v69h-1zM151 388h1v69h-1zM153 400h1v57h-1zM155 396h1v61h-1zM157 400h1v57h-1zM159 404h1v53h-1zM161 404h1v53h-1zM163 408h1v49h-1zM165 408h1v49h-1zM167 412h1v45h-1zM169 408h1v49h-1zM171 408h1v49h-1zM173 408h1v49h-1zM175 404h1v53h-1zM177 408h1v49h-1zM179 404h1v53h-1zM181 404h1v53h-1zM183 404h1v53h-1zM185 404h1v53h-1zM187 408h1v49h-1zM189 412h1v45h-1zM191 417h1v40h-1zM193 417h1v40h-1zM195 412h1v45h-1zM197 417h1v40h-1zM199 417h1v40h-1zM201 417h1v40h-1zM203 421h1v36h-1zM205 421h1v36h-1zM207 421h1v36h-1zM209 421h1v36h-1zM211 421h1v36h-1zM213 421h1v36h-1zM215 417h1v40h-1zM217 417h1v40h-1zM219 421h1v36h-1zM221 421h1v36h-1zM223 421h1v36h-1zM225 421h1v36h-1zM227 421h1v36h-1zM229 429h1v28h-1zM231 429h1v28h-1zM233 425h1v32h-1zM235 425h1v32h-1zM237 425h1v32h-1zM239 408h1v49h-1zM241 408h1v49h-1zM243 400h1v57h-1zM245 400h1v57h-1zM247 400h1v57h-1zM249 392h1v65h-1zM251 384h1v73h-1zM253 376h1v81h-1zM255 380h1v77h-1zM258 388h1v69h-1zM260 384h1v73h-1zM262 396h1v61h-1zM264 396h1v61h-1zM266 388h1v69h-1zM268 380h1v77h-1zM270 380h1v77h-1zM272 384h1v73h-1zM274 380h1v77h-1zM276 376h1v81h-1zM278 372h1v85h-1zM280 376h1v81h-1zM282 376h1v81h-1zM284 376h1v81h-1zM286 372h1v85h-1zM288 356h1v101h-1zM290 364h1v93h-1zM292 360h1v97h-1zM294 348h1v105h-1zM294 455h1v3h-1zM296 352h1v101h-1zM296 454h1v4h-1zM298 356h1v97h-1zM298 454h1v4h-1zM300 364h1v89h-1zM300 454h1v4h-1zM302 356h1v97h-1zM302 454h1v4h-1zM304 356h1v97h-1zM304 454h1v4h-1zM306 340h1v113h-1zM306 454h1v4h-1zM308 340h1v113h-1zM308 454h1v4h-1zM310 336h1v117h-1zM310 454h1v4h-1zM312 348h1v105h-1zM312 454h1v4h-1zM314 356h1v97h-1zM314 454h1v4h-1zM316 352h1v101h-1zM316 454h1v4h-1zM318 352h1v101h-1zM318 454h1v4h-1zM320 360h1v93h-1zM320 454h1v4h-1zM322 360h1v93h-1zM322 454h1v4h-1zM324 360h1v93h-1zM324 454h1v4h-1zM326 356h1v97h-1zM326 454h1v4h-1zM328 352h1v101h-1zM328 454h1v4h-1zM330 340h1v113h-1zM330 454h1v4h-1zM332 344h1v109h-1zM332 454h1v4h-1zM334 352h1v101h-1zM334 454h1v4h-1zM336 348h1v105h-1zM336 454h1v4h-1zM338 352h1v101h-1zM338 454h1v4h-1zM340 340h1v113h-1zM340 454h1v4h-1zM342 340h1v113h-1zM342 454h1v4h-1zM344 336h1v117h-1zM344 454h1v4h-1zM346 340h1v113h-1zM346 454h1v4h-1zM348 332h1v121h-1zM348 454h1v4h-1zM350 332h1v121h-1zM350 454h1v4h-1zM352 336h1v117h-1zM352 454h1v4h-1zM354 340h1v113h-1zM354 454h1v4h-1zM356 319h1v134h-1zM356 454h1v4h-1zM358 323h1v130h-1zM358 454h1v4h-1zM360 319h1v134h-1zM360 454h1v4h-1zM362 327h1v126h-1zM362 454h1v4h-1zM364 323h1v130h-1zM364 454h1v4h-1zM366 332h1v121h-1zM366 454h1v4h-1zM368 327h1v126h-1zM368 454h1v4h-1zM370 348h1v105h-1zM370 454h1v4h-1zM372 336h1v117h-1zM372 454h1v4h-1zM374 348h1v105h-1zM374 454h1v4h-1zM376 348h1v105h-1zM376 454h1v4h-1zM378 344h1v109h-1zM378 454h1v4h-1zM380 344h1v109h-1zM380 454h1v4h-1zM382 336h1v117h-1zM382 454h1v4h-1zM384 340h1v113h-1zM384 454h1v4h-1zM386 336h1v117h-1zM386 454h1v4h-1zM388 336h1v117h-1zM388 454h1v4h-1zM390 327h1v126h-1zM390 454h1v4h-1zM392 303h1v150h-1zM392 454h1v4h-1zM394 303h1v150h-1zM394 454h1v4h-1zM396 295h1v154h-1zM396 451h1v7h-1zM398 279h1v170h-1zM398 450h1v8h-1zM400 283h1v166h-1zM400 450h1v8h-1zM403 295h1v154h-1zM403 450h1v8h-1zM405 299h1v150h-1zM405 450h1v8h-1zM407 303h1v146h-1zM407 450h1v8h-1zM409 307h1v142h-1zM409 450h1v8h-1zM411 311h1v138h-1zM411 450h1v8h-1zM413 307h1v142h-1zM413 450h1v8h-1zM415 303h1v142h-1zM415 447h1v11h-1zM417 307h1v138h-1zM417 446h1v12h-1zM419 303h1v145h-1zM419 450h1v8h-1zM421 311h1v134h-1zM421 447h1v11h-1zM423 311h1v134h-1zM423 446h1v12h-1zM425 299h1v146h-1zM425 446h1v12h-1zM427 303h1v142h-1zM427 446h1v12h-1zM429 315h1v130h-1zM429 446h1v12h-1zM431 311h1v134h-1zM431 446h1v12h-1zM433 311h1v134h-1zM433 446h1v12h-1zM435 303h1v142h-1zM435 446h1v12h-1zM437 287h1v158h-1zM437 446h1v12h-1zM439 275h1v170h-1zM439 446h1v12h-1zM441 275h1v173h-1zM441 450h1v8h-1zM443 279h1v170h-1zM443 450h1v8h-1zM445 275h1v174h-1zM445 450h1v8h-1zM447 271h1v178h-1zM447 450h1v8h-1zM449 271h1v178h-1zM449 450h1v8h-1zM451 271h1v178h-1zM451 450h1v8h-1zM453 263h1v186h-1zM453 450h1v8h-1zM455 263h1v186h-1zM455 450h1v8h-1zM457 251h1v194h-1zM457 447h1v11h-1zM459 226h1v219h-1zM459 446h1v12h-1zM461 247h1v198h-1zM461 446h1v12h-1zM463 230h1v215h-1zM463 446h1v12h-1zM465 230h1v215h-1zM465 446h1v12h-1zM467 238h1v207h-1zM467 446h1v12h-1zM469 234h1v214h-1zM469 450h1v8h-1zM471 251h1v198h-1zM471 450h1v8h-1zM473 251h1v198h-1zM473 450h1v8h-1zM475 238h1v207h-1zM475 447h1v11h-1zM477 242h1v203h-1zM477 446h1v12h-1zM479 242h1v203h-1zM479 446h1v12h-1zM481 247h1v198h-1zM481 446h1v12h-1zM483 259h1v186h-1zM483 446h1v12h-1zM485 259h1v186h-1zM485 446h1v12h-1zM487 263h1v182h-1zM487 446h1v12h-1zM489 267h1v178h-1zM489 446h1v12h-1zM491 251h1v194h-1zM491 446h1v12h-1zM493 259h1v186h-1zM493 446h1v12h-1zM495 242h1v203h-1zM495 446h1v12h-1zM497 222h1v223h-1zM497 446h1v12h-1zM499 230h1v218h-1zM499 450h1v8h-1zM501 234h1v215h-1zM501 450h1v8h-1zM503 234h1v215h-1zM503 450h1v8h-1zM505 222h1v227h-1zM505 450h1v8h-1zM507 234h1v215h-1zM507 450h1v8h-1zM509 226h1v223h-1zM509 450h1v8h-1zM511 234h1v215h-1zM511 450h1v8h-1zM513 247h1v202h-1zM513 450h1v8h-1zM515 247h1v205h-1zM515 454h1v4h-1zM517 255h1v198h-1zM517 454h1v4h-1zM519 267h1v186h-1zM519 454h1v4h-1zM521 271h1v182h-1zM521 454h1v4h-1zM523 271h1v178h-1zM523 451h1v7h-1zM525 283h1v166h-1zM525 450h1v8h-1zM527 283h1v166h-1zM527 450h1v8h-1zM529 279h1v170h-1zM529 450h1v8h-1zM531 271h1v178h-1zM531 450h1v8h-1zM533 271h1v178h-1zM533 450h1v8h-1zM535 263h1v186h-1zM535 450h1v8h-1zM537 291h1v158h-1zM537 450h1v8h-1zM539 39h1v6h-1zM539 299h1v150h-1zM539 450h1v8h-1zM540 45h1v1h-1zM541 45h1v1h-1zM541 291h1v158h-1zM541 450h1v8h-1zM542 45h1v1h-1zM543 39h1v6h-1zM543 291h1v158h-1zM543 450h1v8h-1zM545 283h1v166h-1zM545 450h1v8h-1zM546 42h1v1h-1zM546 45h1v1h-1zM547 41h1v1h-1zM547 43h1v1h-1zM547 45h1v1h-1zM548 41h1v1h-1zM548 43h1v1h-1zM548 45h1v1h-1zM548 291h1v158h-1zM548 450h1v8h-1zM549 41h1v1h-1zM549 43h1v1h-1zM549 45h1v1h-1zM550 41h1v1h-1zM550 44h1v1h-1zM550 291h1v158h-1zM550 450h1v8h-1zM552 295h1v154h-1zM552 450h1v8h-1zM553 42h1v3h-1zM554 41h1v1h-1zM554 43h1v1h-1zM554 45h1v1h-1zM554 307h1v142h-1zM554 450h1v8h-1zM555 41h1v1h-1zM555 43h1v1h-1zM555 45h1v1h-1zM556 41h1v1h-1zM556 43h1v1h-1zM556 45h1v1h-1zM556 299h1v150h-1zM556 450h1v8h-1zM557 42h1v2h-1zM558 287h1v162h-1zM558 450h1v8h-1zM560 41h1v5h-1zM560 279h1v170h-1zM560 450h1v8h-1zM561 42h1v1h-1zM562 41h1v1h-1zM562 279h1v170h-1zM562 450h1v8h-1zM563 41h1v1h-1zM564 42h1v1h-1zM564 263h1v186h-1zM564 450h1v8h-1zM566 263h1v186h-1zM566 450h1v8h-1zM568 255h1v194h-1zM568 450h1v8h-1zM570 267h1v182h-1zM570 450h1v8h-1zM572 275h1v174h-1zM572 450h1v8h-1zM573 42h1v1h-1zM574 42h1v1h-1zM574 267h1v182h-1zM574 450h1v8h-1zM575 42h1v1h-1zM576 42h1v1h-1zM576 279h1v170h-1zM576 450h1v8h-1zM577 42h1v1h-1zM578 42h1v1h-1zM578 287h1v162h-1zM578 450h1v8h-1zM579 42h1v1h-1zM580 42h1v1h-1zM580 299h1v150h-1zM580 450h1v8h-1zM581 42h1v1h-1zM582 42h1v1h-1zM582 283h1v166h-1zM582 450h1v8h-1zM583 42h1v1h-1zM584 42h1v1h-1zM584 279h1v170h-1zM584 450h1v8h-1zM585 42h1v1h-1zM586 42h1v1h-1zM586 287h1v162h-1zM586 450h1v8h-1zM587 42h1v1h-1zM588 42h1v1h-1zM588 291h1v158h-1zM588 450h1v8h-1zM589 42h1v1h-1zM590 42h1v1h-1zM590 291h1v158h-1zM590 450h1v8h-1zM591 42h1v1h-1zM592 42h1v1h-1zM592 287h1v162h-1zM592 450h1v8h-1zM593 42h1v1h-1zM594 42h1v1h-1zM594 287h1v162h-1zM594 450h1v8h-1zM595 42h1v1h-1zM596 42h1v1h-1zM596 279h1v170h-1zM596 450h1v8h-1zM597 42h1v1h-1zM598 42h1v1h-1zM598 271h1v178h-1zM598 450h1v8h-1zM599 42h1v1h-1zM600 42h1v1h-1zM600 263h1v186h-1zM600 450h1v8h-1zM601 42h1v1h-1zM602 42h1v1h-1zM602 271h1v178h-1zM602 450h1v8h-1zM603 42h1v1h-1zM604 42h1v1h-1zM604 275h1v174h-1zM604 450h1v8h-1zM605 42h1v1h-1zM606 42h1v1h-1zM606 275h1v174h-1zM606 450h1v8h-1zM608 275h1v174h-1zM608 450h1v8h-1zM610 263h1v186h-1zM610 450h1v8h-1zM612 259h1v190h-1zM612 450h1v8h-1zM614 255h1v194h-1zM614 450h1v8h-1zM616 255h1v197h-1zM616 454h1v4h-1zM618 259h1v194h-1zM618 454h1v4h-1z"/>
<path fill="#5050ff" d="M491 50h3v1h-3zM499 50h1v1h-1zM513 50h1v1h-1zM520 50h1v1h-1zM548 50h1v1h-1zM490 51h1v1h-1zM494 51h1v1h-1zM499 51h1v1h-1zM513 51h1v1h-1zM520 51h1v1h-1zM548 51h1v1h-1zM490 52h1v1h-1zM497 52h5v1h-5zM504 52h1v1h-1zM508 52h1v1h-1zM511 52h5v1h-5zM518 52h5v1h-5zM526 52h2v1h-2zM529 52h1v1h-1zM533 52h3v1h-3zM539 52h1v1h-1zM541 52h2v1h-2zM546 52h5v1h-5zM554 52h3v1h-3zM560 52h1v1h-1zM562 52h2v1h-2zM491 53h3v1h-3zM499 53h1v1h-1zM504 53h1v1h-1zM508 53h1v1h-1zM513 53h1v1h-1zM520 53h1v1h-1zM525 53h1v1h-1zM528 53h2v1h-2zM536 53h1v1h-1zM539 53h2v1h-2zM543 53h1v1h-1zM548 53h1v1h-1zM553 53h1v1h-1zM557 53h1v1h-1zM560 53h2v1h-2zM564 53h1v1h-1zM573 53h34v1h-34zM494 54h1v1h-1zM499 54h1v1h-1zM504 54h1v1h-1zM508 54h1v1h-1zM513 54h1v1h-1zM520 54h1v1h-1zM525 54h1v1h-1zM529 54h1v1h-1zM533 54h4v1h-4zM539 54h1v1h-1zM548 54h1v1h-1zM553 54h5v1h-5zM560 54h1v1h-1zM490 55h1v1h-1zM494 55h1v1h-1zM499 55h1v1h-1zM501 55h1v1h-1zM504 55h1v1h-1zM507 55h2v1h-2zM513 55h1v1h-1zM515 55h1v1h-1zM520 55h1v1h-1zM522 55h1v1h-1zM525 55h1v1h-1zM528 55h2v1h-2zM532 55h1v1h-1zM536 55h1v1h-1zM539 55h1v1h-1zM548 55h1v1h-1zM550 55h1v1h-1zM553 55h1v1h-1zM560 55h1v1h-1zM491 56h3v1h-3zM500 56h1v1h-1zM505 56h2v1h-2zM508 56h1v1h-1zM514 56h1v1h-1zM521 56h1v1h-1zM526 56h2v1h-2zM529 56h1v1h-1zM533 56h4v1h-4zM539 56h1v1h-1zM549 56h1v1h-1zM554 56h3v1h-3zM560 56h1v1h-1zM525 57h1v1h-1zM529 57h1v1h-1zM526 58h3v1h-3zM415 445h3v1h-3zM421 445h19v1h-19zM457 445h11v1h-11zM475 445h23v1h-23zM415 446h1v1h-1zM418 446h1v1h-1zM421 446h1v1h-1zM440 446h1v1h-1zM457 446h1v1h-1zM468 446h1v1h-1zM475 446h1v1h-1zM498 446h1v1h-1zM414 447h1v1h-1zM418 447h1v1h-1zM420 447h1v1h-1zM440 447h1v1h-1zM456 447h1v1h-1zM468 447h1v1h-1zM474 447h1v1h-1zM498 447h1v1h-1zM414 448h1v1h-1zM419 448h2v1h-2zM441 448h1v1h-1zM456 448h1v1h-1zM469 448h1v1h-1zM474 448h1v1h-1zM499 448h1v1h-1zM60 449h80v1h-80zM396 449h18v1h-18zM419 449h1v1h-1zM441 449h15v1h-15zM469 449h5v1h-5zM499 449h15v1h-15zM523 449h92v1h-92zM60 450h1v1h-1zM140 450h1v1h-1zM396 450h1v1h-1zM514 450h1v1h-1zM523 450h1v1h-1zM615 450h1v1h-1zM59 451h1v1h-1zM140 451h1v1h-1zM395 451h1v1h-1zM514 451h1v1h-1zM522 451h1v1h-1zM615 451h1v1h-1zM59 452h1v1h-1zM141 452h1v1h-1zM395 452h1v1h-1zM515 452h1v1h-1zM522 452h1v1h-1zM616 452h1v1h-1zM40 453h19v1h-19zM141 453h5v1h-5zM294 453h101v1h-101zM515 453h7v1h-7zM616 453h3v1h-3zM146 454h1v1h-1zM294 454h1v1h-1zM146 455h1v1h-1zM293 455h1v1h-1zM147 456h1v1h-1zM293 456h1v1h-1zM147 457h146v1h-146z"/>
</svg></body></html>
